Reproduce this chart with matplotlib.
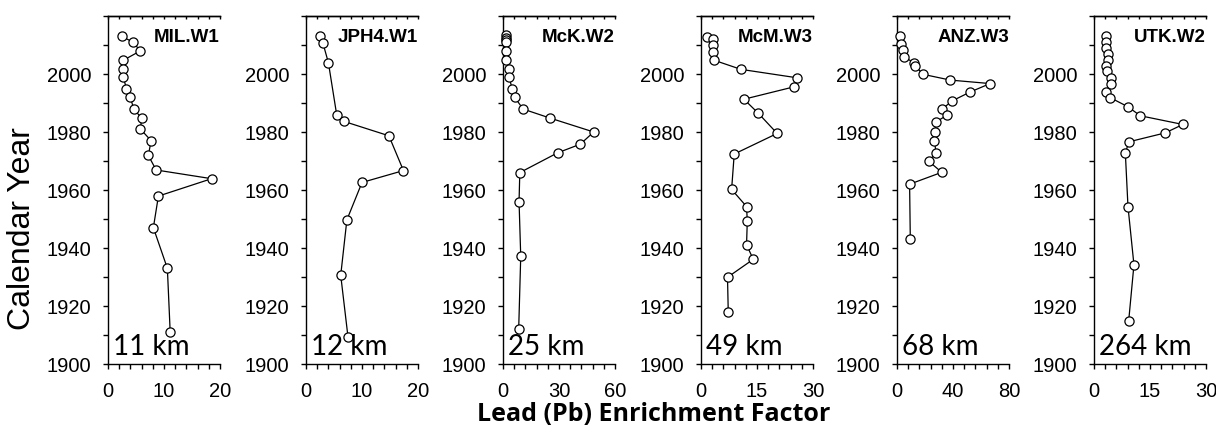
import matplotlib
matplotlib.use("Agg")
import matplotlib.pyplot as plt
from matplotlib.ticker import MultipleLocator, FixedLocator

# ---------------- data ----------------
site_names = ["MIL.W1", "JPH4.W1", "McK.W2", "McM.W3", "ANZ.W3", "UTK.W2"]
distance_labels = ["11 km", "12 km", "25 km", "49 km", "68 km", "264 km"]
x_max = [20, 20, 60, 30, 80, 30]

mil_year = [2013.0, 2011.0, 2008.0, 2004.7, 2001.6, 1999.0, 1995.0, 1991.9, 1987.9,
            1984.8, 1981.0, 1977.0, 1971.9, 1966.9, 1963.9, 1957.9, 1947.0, 1933.0, 1911.2]
mil_pb = [2.5, 4.4, 5.8, 2.7, 2.7, 2.7, 3.3, 4.0, 4.6,
          6.0, 5.8, 7.7, 7.2, 8.6, 18.5, 9.0, 8.1, 10.6, 11.1]

jph_year = [2013.0, 2010.8, 2003.9, 1985.7, 1983.7, 1978.7, 1966.7, 1962.6, 1949.7, 1930.6, 1909.3]
jph_pb = [2.45, 3.0, 4.0, 5.5, 6.7, 14.8, 17.4, 10.0, 7.3, 6.2, 7.5]

mck_year = [2013.3, 2012.5, 2011.8, 2011.0, 2008.0, 2004.7, 2001.8, 1999.0, 1995.0, 1991.9,
            1987.9, 1984.8, 1980.0, 1975.8, 1972.8, 1966.0, 1956.0, 1937.1, 1912.0]
mck_pb = [1.5, 1.5, 1.6, 1.8, 1.4, 1.8, 3.2, 3.2, 4.9, 6.3,
          10.8, 25.2, 48.6, 41.4, 29.2, 9.0, 8.6, 9.5, 8.4]

mcm_year = [2012.8, 2011.9, 2009.9, 2007.6, 2004.7, 2001.6, 1998.7, 1995.6, 1991.3, 1986.4,
            1979.5, 1972.4, 1960.2, 1954.3, 1949.3, 1941.1, 1936.1, 1929.9, 1917.9]
mcm_pb = [1.5, 3.3, 3.1, 3.1, 3.6, 10.7, 25.7, 25.0, 11.5, 15.4,
          20.4, 8.9, 8.2, 12.2, 12.4, 12.2, 14.0, 7.1, 7.3]

anz_year = [2013.0, 2010.2, 2008.2, 2005.9, 2003.9, 2002.8, 1999.9, 1997.9, 1996.7, 1993.8,
            1990.7, 1987.8, 1985.8, 1983.5, 1980.1, 1977.0, 1972.8, 1969.9, 1966.1, 1962.0, 1943.0]
anz_pb = [2.4, 3.0, 4.3, 5.0, 12.1, 13.0, 18.5, 38.1, 66.5, 52.3,
          39.3, 32.0, 35.8, 27.9, 27.2, 26.7, 27.9, 22.7, 32.0, 9.0, 9.5]

utk_year = [2013.0, 2011.0, 2009.0, 2007.0, 2005.0, 2002.9, 2001.0, 1998.7, 1996.7, 1993.8,
            1991.8, 1988.7, 1985.6, 1982.6, 1979.7, 1976.6, 1972.6, 1954.3, 1934.2, 1915.0]
utk_pb = [3.1, 3.1, 3.1, 3.7, 3.7, 3.3, 3.6, 4.5, 4.6, 3.1,
          4.4, 9.1, 12.4, 23.8, 19.1, 9.3, 8.4, 9.1, 10.7, 9.3]

y_major = [1900, 1920, 1940, 1960, 1980, 2000]

years_list = [mil_year, jph_year, mck_year, mcm_year, anz_year, utk_year]
pb_list = [mil_pb, jph_pb, mck_pb, mcm_pb, anz_pb, utk_pb]

# ---------------- layout ----------------
W, H = 1216, 428
fig = plt.figure(figsize=(W / 100, H / 100), dpi=100)

axes_left_px = [108, 306, 503, 701, 897, 1094]
axes_w_px = 112
axes_top_px, axes_bot_px = 16, 364

tick_font = "Liberation Sans"
label_font = "Lato"

for i in range(6):
    l = axes_left_px[i] / W
    b = (H - axes_bot_px) / H
    h = (axes_bot_px - axes_top_px) / H
    ax = fig.add_axes([l, b, axes_w_px / W, h])
    ax.plot(pb_list[i], years_list[i], color="black", lw=0.9,
            marker="o", ms=6.6, mfc="white", mec="black", mew=0.9,
            zorder=3, clip_on=False)
    xm = x_max[i]
    ax.set_xlim(0, xm)
    ax.set_ylim(1900, 2020)
    xt = [0, xm / 2, xm]
    ax.xaxis.set_major_locator(FixedLocator(xt))
    ax.xaxis.set_minor_locator(MultipleLocator(xm / 10))
    ax.yaxis.set_major_locator(FixedLocator(y_major))
    ax.yaxis.set_minor_locator(MultipleLocator(10))
    ax.spines["right"].set_visible(False)
    for s in ["left", "bottom", "top"]:
        ax.spines[s].set_linewidth(1.0)
    ax.tick_params(axis="both", which="both", direction="out", length=3.8, width=1.0,
                   labelsize=14.5, top=False, right=False)
    ax.tick_params(axis="y", which="both", pad=8)
    ax.tick_params(axis="x", which="both", pad=9)
    ax.set_xticklabels([f"{v:g}" for v in xt], fontfamily=tick_font, fontsize=14.5)
    ax.set_yticklabels([str(v) for v in y_major], fontfamily=tick_font, fontsize=14.5)
    sec = ax.secondary_xaxis("top")
    sec.xaxis.set_major_locator(MultipleLocator(xm / 10))
    sec.tick_params(direction="in", length=2.4, width=1.0, labeltop=False)
    sec.spines["top"].set_linewidth(1.0)
    ax.patch.set_alpha(0)

    ax.text(1.0, 0.937, site_names[i], transform=ax.transAxes, ha="right", va="center",
            fontsize=13.5, fontweight="bold", fontfamily=tick_font)
    ax.text(0.045, 0.026, distance_labels[i], transform=ax.transAxes, ha="left",
            va="baseline", fontsize=20, fontfamily=label_font)

fig.text(22 / W, 1 - 229 / H, "Calendar Year", rotation=90, ha="center", va="center",
         fontsize=23, fontfamily=tick_font)
fig.text(654 / W, 1 - 421 / H, "Lead (Pb) Enrichment Factor", ha="center", va="baseline",
         fontsize=18, fontweight="bold", fontfamily="Open Sans")

fig.savefig("out.png", dpi=100)
